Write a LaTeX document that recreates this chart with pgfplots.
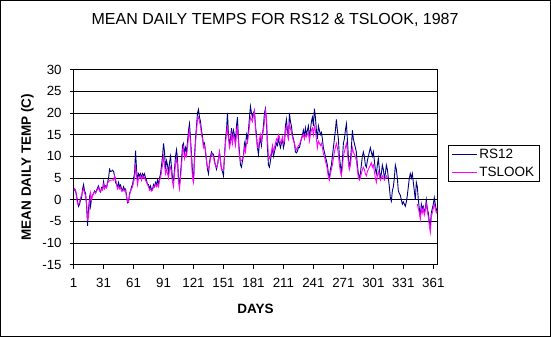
\documentclass[border=0pt]{standalone}
\usepackage{pgfplots}
\usepackage{pgfplotstable}
\pgfplotsset{compat=1.18}
\usepackage{fontspec}
\setmainfont{Liberation Sans}
\definecolor{rsblue}{RGB}{0,0,128}
\definecolor{tsmag}{RGB}{255,0,255}
\pgfplotstableread{
d rs ts
1 2 2.3
2 2.5 2.6
3 2 2.2
4 1 0.5
5 -0.5 -1
6 -1.5 -1
7 -1 -0.5
8 0 0.5
9 0.5 1
10 2.5 2
11 3.5 2.5
12 2 1.5
13 1.5 1
14 -1.5 -1
15 -6 -4.5
16 -2 -4
17 0.5 -0.5
18 -1.5 1.5
19 0.5 0
20 1 1
21 1.5 1.5
22 2 1.8
23 1.5 1.5
24 2.2 2
25 2.8 2.4
26 3.2 2.8
27 2.2 2
28 1.8 2
29 2.8 2.5
30 2.4 2.2
31 4.2 3.5
32 2.8 2.5
33 3.2 3
34 2.8 2.8
35 4 3.8
36 5 4.2
37 7 4.4
38 6.5 4.5
39 6.6 4.5
40 6.8 4.6
41 6.5 4.5
42 5.5 5.5
43 4 5
44 3.5 3.5
45 3 2.5
46 4 3
47 3 2.5
48 3.4 2.8
49 2.5 2
50 2.2 2
51 3 2.4
52 2.4 2
53 2.5 2.2
54 1 0.5
55 -0.7 -0.5
56 -0.5 -0.5
57 1.5 1
58 2 2
59 3 2.5
60 3.5 3
61 5 4
62 6 5
63 11.3 7.5
64 7 5.5
65 4.5 3.5
66 6 5
67 5.5 5
68 6 5.5
69 5 4.5
70 6 5.5
71 5.5 5
72 6 5.2
73 5 4.5
74 4.5 4
75 3.5 3.5
76 3.5 3
77 2.5 2.2
78 3.2 2.5
79 2.2 2
80 2.5 2.2
81 3.5 3
82 3 3
83 4 3.5
84 3.5 3
85 4.5 3.5
86 3.5 3
87 5 4.5
88 6 5
89 8 6.5
90 10 8
91 13 10
92 11 8
93 7 6
94 9 7
95 8 6
96 6 5
97 8.5 7
98 10 7.5
99 7.5 6
100 5 4
101 4.5 3
102 7 6
103 10 8
104 11.5 9.5
105 9.5 8
106 5 4
107 3.5 2.5
108 6 5
109 9 8
110 12.5 11
111 13 12
112 10.5 9.5
113 12 10.5
114 11 10
115 13.5 12
116 16 14.5
117 17.5 16
118 14 13
119 10.5 9
120 6.5 5
121 4 4
122 10 9
123 14 13
124 17 16
125 20 18.5
126 20.8 19
127 19 18
128 18 17
129 16 15
130 14.5 14
131 12.5 12
132 13 12.5
133 11 11.5
134 9 9
135 7 7.5
136 6 7
137 8.5 8
138 10 9.5
139 11 10.5
140 10.5 10
141 10.5 10
142 9 8.5
143 8 8
144 7 7.5
145 8 8
146 9.5 9.5
147 11 11
148 9 9
149 7 7
150 6.5 7
151 5.5 7
152 10 10
153 14 13
154 16 15
155 20 17
156 15 14
157 13 12
158 14 13
159 16.5 15
160 14 13
161 16 15
162 15 14
163 13 12.5
164 17 15
165 19 17
166 14 13
167 11 10
168 8 9
169 7.5 9
170 9 9.5
171 10 10
172 13 12
173 12 11
174 15 13
175 14 13
176 16 15
177 19 17
178 21.5 19
179 20 18.5
180 19 18
181 20 19.5
182 20.5 20.5
183 17 16.5
184 15 14
185 12 12
186 10.5 12
187 13 14
188 14 15
189 12.5 13.5
190 15 15
191 17 16
192 20 18
193 21 20.5
194 18 19
195 12 14
196 8 10
197 7.5 9.5
198 9 10
199 10.5 11
200 12 12.5
201 10 11
202 11 12
203 12 13
204 13 14
205 12.5 13.5
206 14 15
207 13 14.5
208 12 13
209 13 13.5
210 14 14.5
211 12 13
212 13 13.5
213 17 16
214 18.5 17
215 16 15
216 14 14
217 20 17.5
218 18 16.5
219 17 15.5
220 15 14.5
221 14 13.5
222 13 13
223 11 12
224 10.8 11.5
225 11.2 12
226 12 12.5
227 12 12.5
228 13 13.5
229 14 14
230 15 14.5
231 16 15
232 14.5 14
233 16.5 15
234 15 14.5
235 16 15
236 17 15.5
237 14.5 13.5
238 16 15
239 18 16
240 19 16.5
241 17 15
242 21 17
243 19 16
244 16 14
245 14 12
246 17 13.5
247 16 13
248 15 12.5
249 15.5 13
250 14 12
251 12 10.5
252 11 10
253 10 9
254 9 8
255 8 7
256 6 5
257 5 4.5
258 7 6
259 8 7
260 10 8
261 12 9.5
262 14 11
263 16 12
264 18.5 13
265 16 12
266 14 10.5
267 10 8
268 8 6.5
269 6 5.5
270 9 7.5
271 13 10
272 14 11
273 16 12
274 17.5 13
275 14 11
276 10 8.5
277 7 7
278 9 8
279 12 10
280 16 12
281 14 11
282 13 10.5
283 12 10
284 11 9
285 8 7
286 6 5
287 5 4.5
288 6 5
289 8 6
290 10 7
291 11 7.5
292 10 7
293 8 6
294 7.5 5.5
295 9 6.5
296 10 7
297 11 7.5
298 12 8
299 11 8.5
300 10 7.5
301 11 8
302 9 6.5
303 7 5
304 6 4
305 8 5.5
306 9.5 6.5
307 7 5.5
308 5 4.5
309 6 5
310 8 5.5
311 7 5
312 5 4.5
313 6 5
314 8 5.5
315 7 5
316 5 nan
317 3 nan
318 0.5 nan
319 -0.3 nan
320 2 nan
321 3 nan
322 5 nan
323 8 nan
324 7 nan
325 5 nan
326 2 nan
327 1.5 nan
328 1 nan
329 0 nan
330 -1 nan
331 -0.5 nan
332 -1 nan
333 -1.5 nan
334 -0.5 nan
335 1 nan
336 3 nan
337 5 nan
338 6 nan
339 5 nan
340 6 nan
341 4 nan
342 2 nan
343 0 nan
344 4 nan
345 3 -1
346 0 -2
347 -2 -3
348 -4 -4.5
349 -1 -2
350 -2 -3
351 -1.5 -2
352 -3 -3.5
353 -2 -2.5
354 0 -1
355 -2 -2.5
356 -3 -4
357 -5 -6
358 -6 -7.5
359 -3 -4
360 -2 -3
361 -1 -2
362 0.5 -1
363 -1 -2
364 -2.5 -3
365 -2 -2.5
}\tempdata
\begin{document}
\begin{tikzpicture}
\useasboundingbox (0,0) rectangle (551pt,337pt);
\draw[line width=1pt] (0.5pt,0.5pt) rectangle (550.5pt,336.5pt);
\begin{axis}[
  at={(73.6pt,72.1pt)}, anchor=south west,
  scale only axis, width=363.7pt, height=195.4pt,
  xmin=1, xmax=365, ymin=-15, ymax=30,
  xtick={1,31,...,361}, ytick={-15,-10,...,30},
  ymajorgrids, grid style={black, line width=0.8pt},
  axis line style={black, line width=0.8pt},
  tick align=outside, tick pos=left, major tick length=4pt,
  tick style={black, line width=0.8pt},
  /pgf/number format/assume math mode=true,
  ticklabel style={font=\fontsize{13.3}{15}\selectfont},
  xticklabel style={yshift=-6pt},
  yticklabel style={xshift=-4.5pt},
  unbounded coords=jump,
  title={MEAN DAILY TEMPS FOR RS12 \& TSLOOK, 1987},
  title style={at={(axis description cs:0.554,1)}, anchor=center, yshift=43.5pt, font=\fontsize{16}{18}\selectfont},
  xlabel={DAYS},
  xlabel style={at={(axis description cs:0.5,-0.225)}, anchor=center, font=\fontsize{13.5}{15}\selectfont\bfseries},
  ylabel={MEAN DAILY TEMP (C)},
  ylabel style={at={(axis description cs:-0.1268,0.5)}, anchor=center, font=\fontsize{13.5}{15}\selectfont\bfseries},
  legend style={at={(axis description cs:1,1)}, anchor=north west, xshift=10.7pt, yshift=-75.1pt,
    draw=black, line width=0.8pt, font=\fontsize{13.5}{15}\selectfont, inner xsep=3pt, inner ysep=2pt, row sep=3pt},
  legend cell align=left,
  legend image code/.code={\draw[#1] (0pt,0pt) -- (25pt,0pt);},
]
\addplot[rsblue, line width=0.9pt, sharp plot] table[x=d, y=rs] {\tempdata};
\addlegendentry{RS12}
\addplot[tsmag, line width=0.9pt, sharp plot] table[x=d, y=ts] {\tempdata};
\addlegendentry{TSLOOK}
\end{axis}
\end{tikzpicture}
\end{document}
